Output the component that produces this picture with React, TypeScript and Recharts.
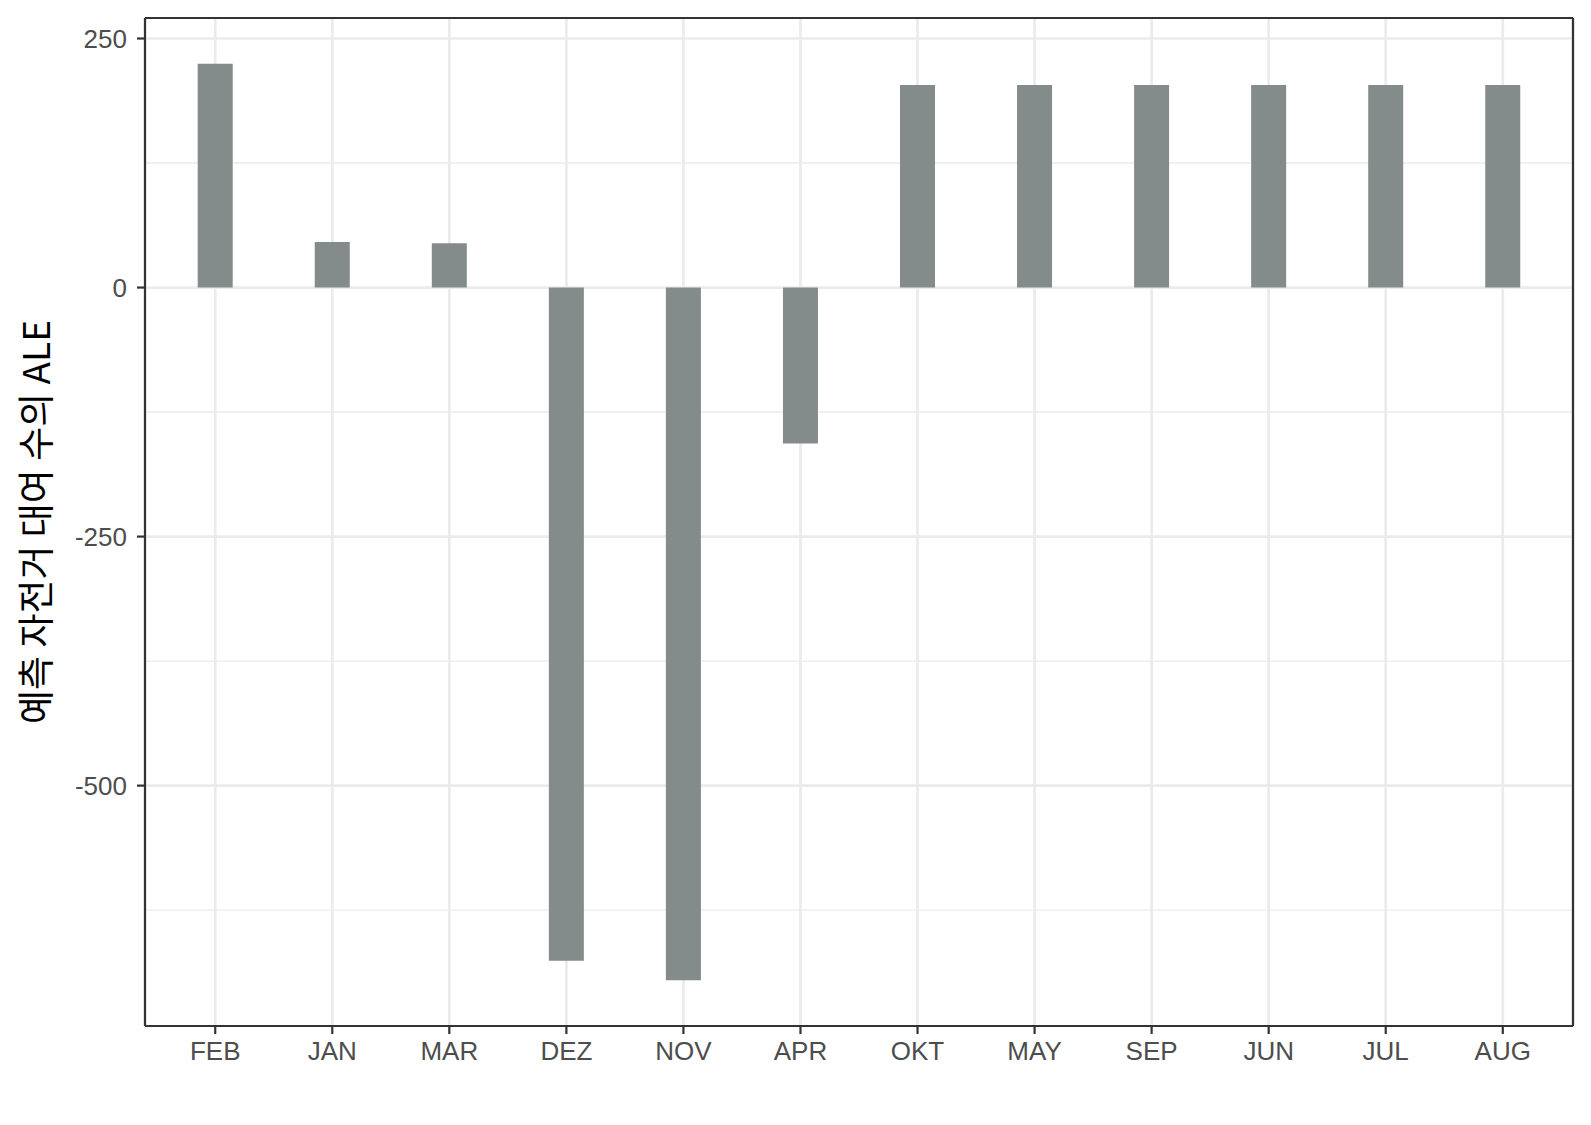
import { BarChart, Bar, XAxis, YAxis, CartesianGrid, Label } from "recharts";

const MONTHS = ["FEB", "JAN", "MAR", "DEZ", "NOV", "APR", "OKT", "MAY", "SEP", "JUN", "JUL", "AUG"];
const ALE = [224.6, 45.7, 44.4, -675.9, -695.3, -156.6, 203.3, 203.3, 203.3, 203.3, 203.3, 203.3];
const Y_TICKS = [-625, -500, -375, -250, -125, 0, 125, 250];
const Y_MAJOR = [-500, -250, 0, 250];
const Y_TITLE = "예측 자전거 대여 수의 ALE";

const data = MONTHS.map((month, i) => ({ month, ale: ALE[i] }));

// ggplot-style 5% expansion of the data range
const lo = Math.min(...ALE);
const hi = Math.max(...ALE);
const pad = (hi - lo) * 0.05;
const DOMAIN: [number, number] = [lo - pad, hi + pad];

const INK = "#333333";
const GRID = "#EBEBEB";
const TICK_TEXT = "#4D4D4D";
const BAR = "#838B8B";

function YTick(p: any) {
  const v = p.payload?.value;
  if (!Y_MAJOR.includes(v)) return <g />;
  return (
    <g>
      <line x1={p.x + 10} x2={p.x + 18} y1={p.y} y2={p.y} stroke={INK} strokeWidth={2.2} />
      <text x={p.x} y={p.y} dy="0.355em" textAnchor="end" fill={TICK_TEXT} fontSize={26}>
        {v}
      </text>
    </g>
  );
}

function HLine(p: any) {
  const major = Y_MAJOR.includes(Y_TICKS[p.index]);
  return (
    <line key={p.key} x1={p.x1} y1={p.y1} x2={p.x2} y2={p.y2}
      stroke={GRID} strokeWidth={major ? 2.7 : 1.4} />
  );
}

function VLine(p: any) {
  return (
    <line key={p.key} x1={p.x1} y1={p.y1} x2={p.x2} y2={p.y2}
      stroke={GRID} strokeWidth={2.7} />
  );
}

function YTitle({ viewBox }: any) {
  const cx = viewBox.x + 33.5;
  const cy = viewBox.y + viewBox.height / 2;
  return (
    <text
      x={cx}
      y={cy}
      transform={`rotate(-90, ${cx}, ${cy})`}
      textAnchor="middle"
      dominantBaseline="central"
      fontSize={37}
      fontFamily="'Noto Sans CJK KR', 'Noto Sans', sans-serif"
      fill="#000"
    >
      {Y_TITLE}
    </text>
  );
}

export default function App() {
  return (
    <div style={{ position: "absolute", left: 0, top: 0, background: "#fff" }}>
      <BarChart
        width={1591}
        height={1125}
        data={data}
        margin={{ top: 17, right: 17, bottom: 39, left: 0 }}
        style={{ fontFamily: "'Liberation Sans', Arial, sans-serif" }}
      >
        <CartesianGrid horizontal={HLine} vertical={VLine} />
        <XAxis
          dataKey="month"
          height={60}
          padding={{ left: 11.7, right: 11.7 }}
          axisLine={{ stroke: INK, strokeWidth: 2.2 }}
          tickLine={{ stroke: INK, strokeWidth: 2.2 }}
          tickSize={8}
          tickMargin={8}
          tick={{ fill: TICK_TEXT, fontSize: 26 }}
          interval={0}
        />
        <XAxis
          xAxisId="top"
          dataKey="month"
          orientation="top"
          height={1}
          tick={false}
          tickLine={false}
          axisLine={{ stroke: INK, strokeWidth: 2.2 }}
        />
        <YAxis
          type="number"
          width={145}
          domain={DOMAIN}
          ticks={Y_TICKS}
          allowDataOverflow
          axisLine={{ stroke: INK, strokeWidth: 2.2 }}
          tickLine={false}
          tickSize={8}
          tickMargin={10}
          tick={YTick}
          interval={0}
        >
          <Label content={YTitle} />
        </YAxis>
        <YAxis
          yAxisId="right"
          orientation="right"
          type="number"
          width={1}
          domain={DOMAIN}
          tick={false}
          tickLine={false}
          axisLine={{ stroke: INK, strokeWidth: 2.2 }}
        />
        <Bar dataKey="ale" fill={BAR} barSize={35} isAnimationActive={false} />
      </BarChart>
    </div>
  );
}
